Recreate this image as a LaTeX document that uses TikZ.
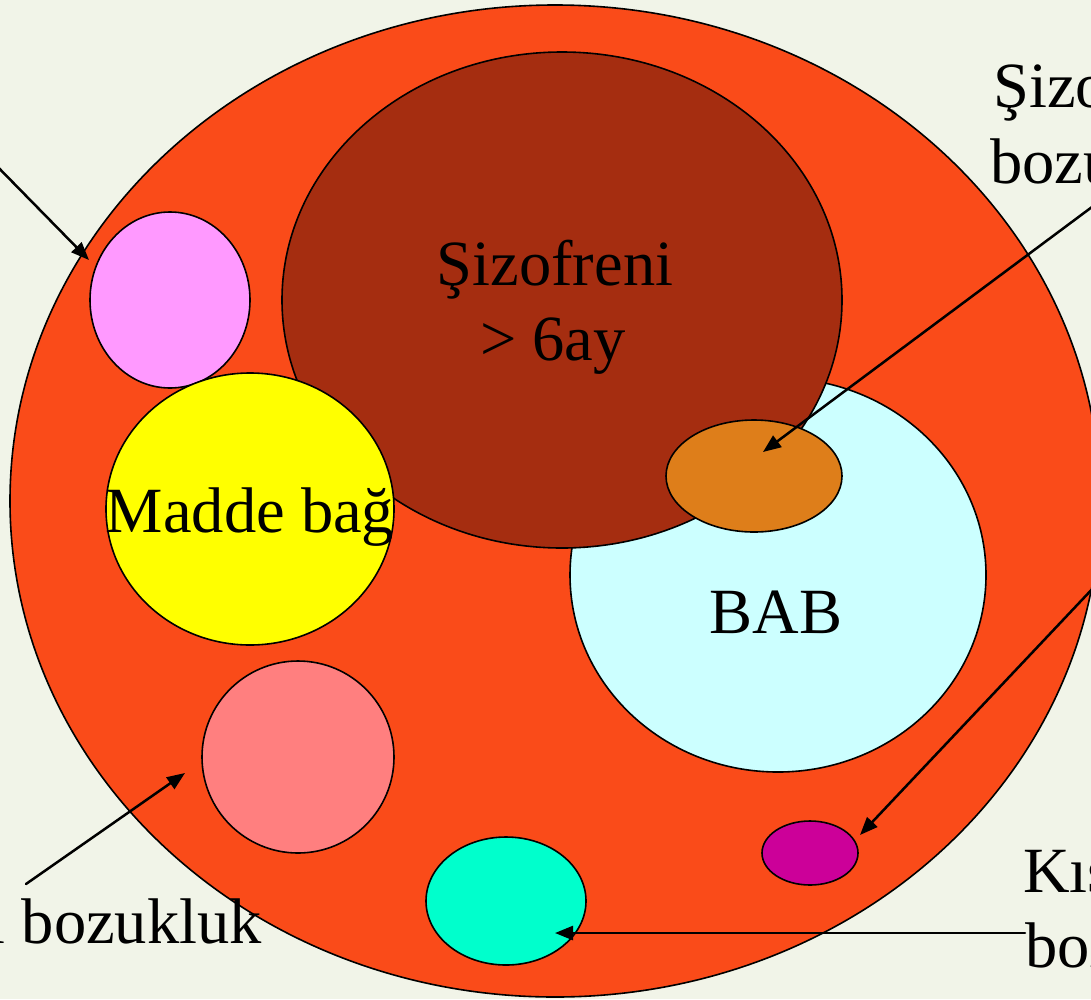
\documentclass[tikz,border=0pt]{standalone}
\usepackage{fontspec}
\setmainfont{Liberation Serif}
\usetikzlibrary{arrows.meta}

\definecolor{bgcream}{HTML}{F1F4E8}
\definecolor{outerred}{HTML}{FA4B19}
\definecolor{schizbrown}{HTML}{A52D10}
\definecolor{babcyan}{HTML}{CCFFFF}
\definecolor{affektif}{HTML}{DE7E1A}
\definecolor{pinkish}{HTML}{FF99FF}
\definecolor{salmon}{HTML}{FF7F7F}
\definecolor{tealish}{HTML}{00FFCC}
\definecolor{magentaish}{HTML}{CC0099}
\definecolor{pureyellow}{HTML}{FFFF00}

\begin{document}
\begin{tikzpicture}[
    x=1pt, y=-1pt,
    line cap=round,
    line join=round,
    venn/.style={draw=black, line width=1.6pt},
    pointer/.style={-{Triangle[length=18pt,width=14pt]}, line width=2.5pt},
    lbl/.style={font=\fontsize{64.5}{75}\selectfont, inner sep=0pt}
]

%------------------------------------------------
% Frame and background
%------------------------------------------------
\path[use as bounding box] (0,0) rectangle (1091,999);
\clip (0,0) rectangle (1091,999);
\fill[bgcream] (0,0) rectangle (1091,999);

%------------------------------------------------
% Outer ellipse
%------------------------------------------------
\draw[venn, fill=outerred] (555,501) ellipse [x radius=545pt, y radius=496pt];

%------------------------------------------------
% Inner ellipses
%------------------------------------------------
\draw[venn, fill=pinkish] (170,300) ellipse [x radius=80pt, y radius=88pt];

\draw[venn, fill=babcyan] (778,575) ellipse [x radius=208pt, y radius=197pt];

\draw[venn, fill=schizbrown] (562,300) ellipse [x radius=280pt, y radius=248pt];

\draw[venn, fill=pureyellow] (250,509) ellipse [x radius=144pt, y radius=136pt];

\draw[venn, fill=affektif] (754,476) ellipse [x radius=88pt, y radius=56pt];

\draw[venn, fill=salmon] (298,757) ellipse [x radius=96pt, y radius=96pt];

\draw[venn, fill=tealish] (506,901) ellipse [x radius=80pt, y radius=64pt];

\draw[venn, fill=magentaish] (810,853) ellipse [x radius=48pt, y radius=32pt];

%------------------------------------------------
% Labels
%------------------------------------------------
\node[lbl, anchor=base] (sizofreni) at (555,285) {Şizofreni};
\node[lbl, anchor=base] (altiay) at (553,360) {> 6ay};
\node[lbl, anchor=base] (madde) at (250,532) {Madde bağ};
\node[lbl, anchor=base] (bab) at (776,633) {BAB};

\node[lbl, anchor=base west] (affektifa) at (993,107) {Şizoaffektif};
\node[lbl, anchor=base west] (affektifb) at (990,183) {bozukluk};

\node[lbl, anchor=base west] (kisaa) at (1023,892) {Kısa psikotik};
\node[lbl, anchor=base west] (kisab) at (1025,967) {bozukluk};

\node[lbl, anchor=base east] (sanrisal) at (262,943) {Sanrısal bozukluk};

%------------------------------------------------
% Arrow ends
%------------------------------------------------
\coordinate (pinkfrom) at (-12,157);
\coordinate (pinkto) at (89,260);
\coordinate (affektiffrom) at (1100,201);
\coordinate (affektifto) at (763,452);
\coordinate (kisafrom) at (1096,585);
\coordinate (kisato) at (860,835);
\coordinate (tealfrom) at (1025,933);
\coordinate (tealto) at (555,933);
\coordinate (sanrisalfrom) at (26,884);
\coordinate (sanrisalto) at (185,773);

%------------------------------------------------
% Arrows
%------------------------------------------------
\draw[pointer] (pinkfrom) -- (pinkto);
\draw[pointer] (affektiffrom) -- (affektifto);
\draw[pointer] (kisafrom) -- (kisato);
\draw[pointer] (tealfrom) -- (tealto);
\draw[pointer] (sanrisalfrom) -- (sanrisalto);

\end{tikzpicture}
\end{document}
